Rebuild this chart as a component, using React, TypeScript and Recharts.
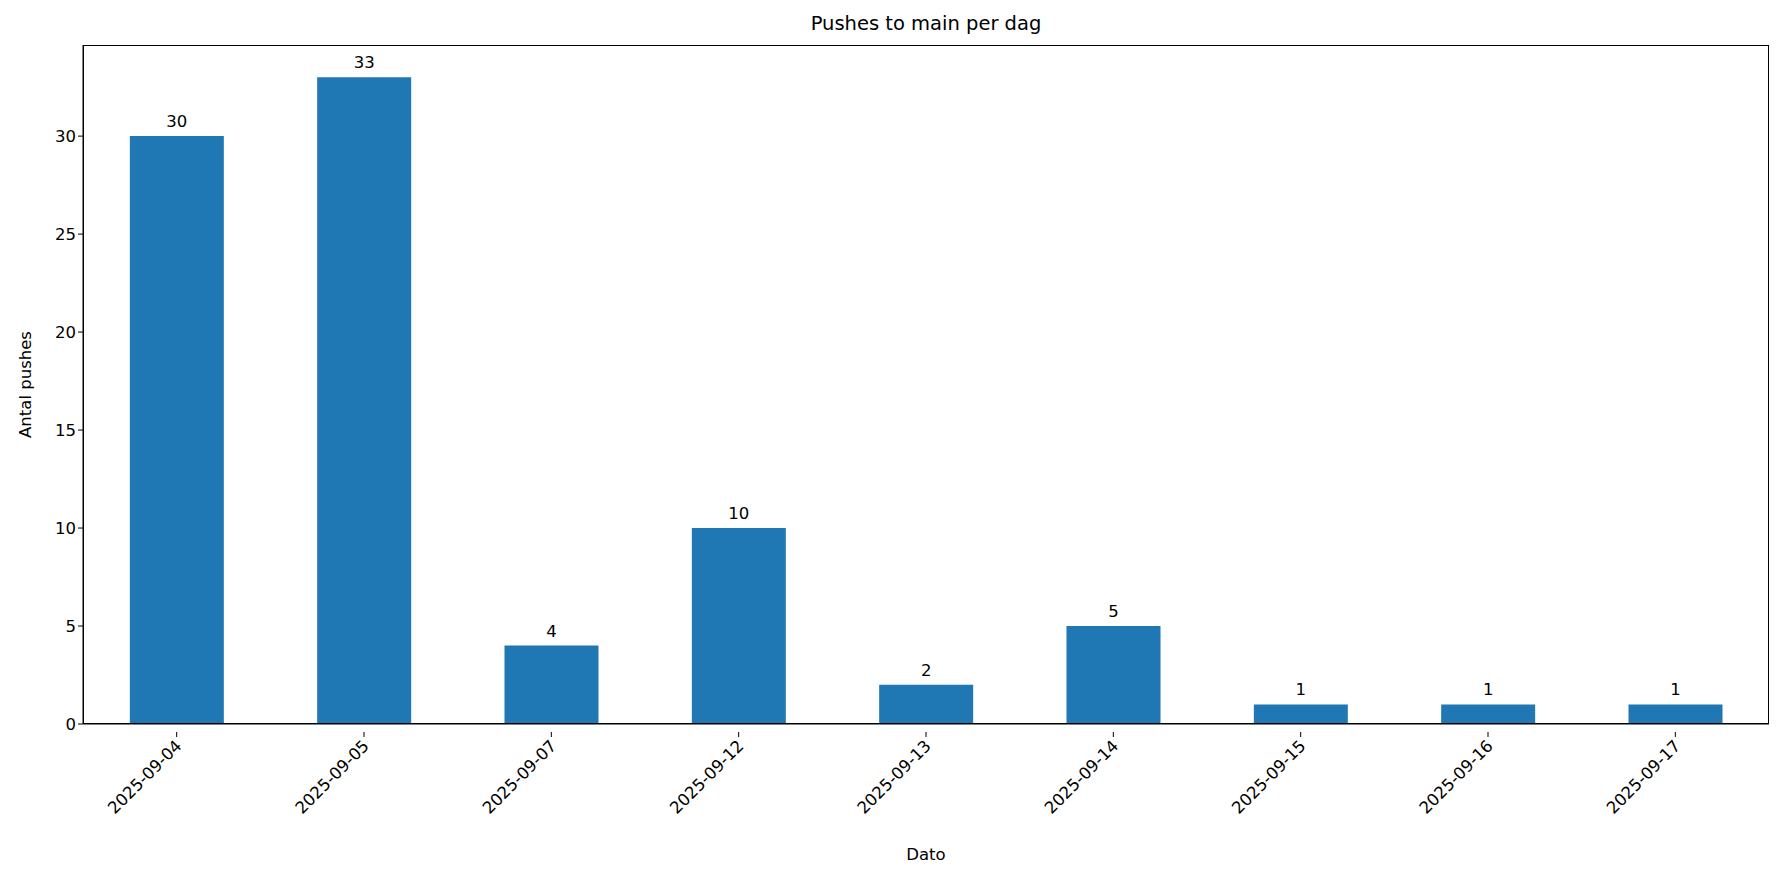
import React, { useEffect } from "react";
import { BarChart, Bar, XAxis, YAxis, LabelList } from "recharts";

const dates = ["2025-09-04","2025-09-05","2025-09-07","2025-09-12","2025-09-13","2025-09-14","2025-09-15","2025-09-16","2025-09-17"];
const pushes = [30, 33, 4, 10, 2, 5, 1, 1, 1];
const yTicks = [0, 5, 10, 15, 20, 25, 30];

const data = dates.map((d, i) => ({ date: d, value: pushes[i] }));
const FONT = "DejaVu Sans";
const FS = 16.5;

const XTick = (props: any) => {
  const { x, y, payload } = props;
  return (
    <g transform={`translate(${x},${y})`}>
      <line x1={0} y1={0} x2={0} y2={5} stroke="#000" strokeWidth={1} />
      <text transform="translate(6,15) rotate(-45)" textAnchor="end" fontSize={FS} fontFamily={FONT} fill="#000">
        {payload.value}
      </text>
    </g>
  );
};

export default function App() {
  useEffect(() => { document.body.style.margin = "0"; }, []);
  const W = 1784, H = 882;
  return (
    <div style={{ position: "relative", width: W, height: H, background: "#fff" }}>
      <div style={{ position: "absolute", top: 12, left: 83, width: 1686, textAlign: "center", fontFamily: FONT, fontSize: 19.5 }}>
        Pushes to main per dag
      </div>
      <BarChart width={W} height={H} data={data} margin={{ top: 45, right: 15, left: 23, bottom: 58 }} barCategoryGap="25%">
        <XAxis dataKey="date" interval={0} tick={<XTick />} tickLine={false} height={100}
          axisLine={{ stroke: "#000" }}
          label={{ value: "Dato", position: "insideBottom", offset: -36, fontFamily: FONT, fontSize: FS, fill: "#000" }} />
        <YAxis domain={[0, 34.65]} ticks={yTicks} width={60} interval={0}
          tick={{ fontFamily: FONT, fontSize: FS, fill: "#000" }}
          tickLine={{ stroke: "#000" }} tickSize={5} axisLine={{ stroke: "#000" }}
          label={{ value: "Antal pushes", angle: -90, position: "insideLeft", offset: 0, dx: 2, fontFamily: FONT, fontSize: FS, fill: "#000", style: { textAnchor: "middle" } }} />
        <Bar dataKey="value" fill="#1f77b4" isAnimationActive={false}>
          <LabelList dataKey="value" position="top" offset={9} fontFamily={FONT} fontSize={FS} fill="#000" />
        </Bar>
      </BarChart>
      <div style={{ position: "absolute", left: 83, top: 45, width: 1686, height: 679, border: "1px solid #000", boxSizing: "border-box", pointerEvents: "none" }} />
    </div>
  );
}
